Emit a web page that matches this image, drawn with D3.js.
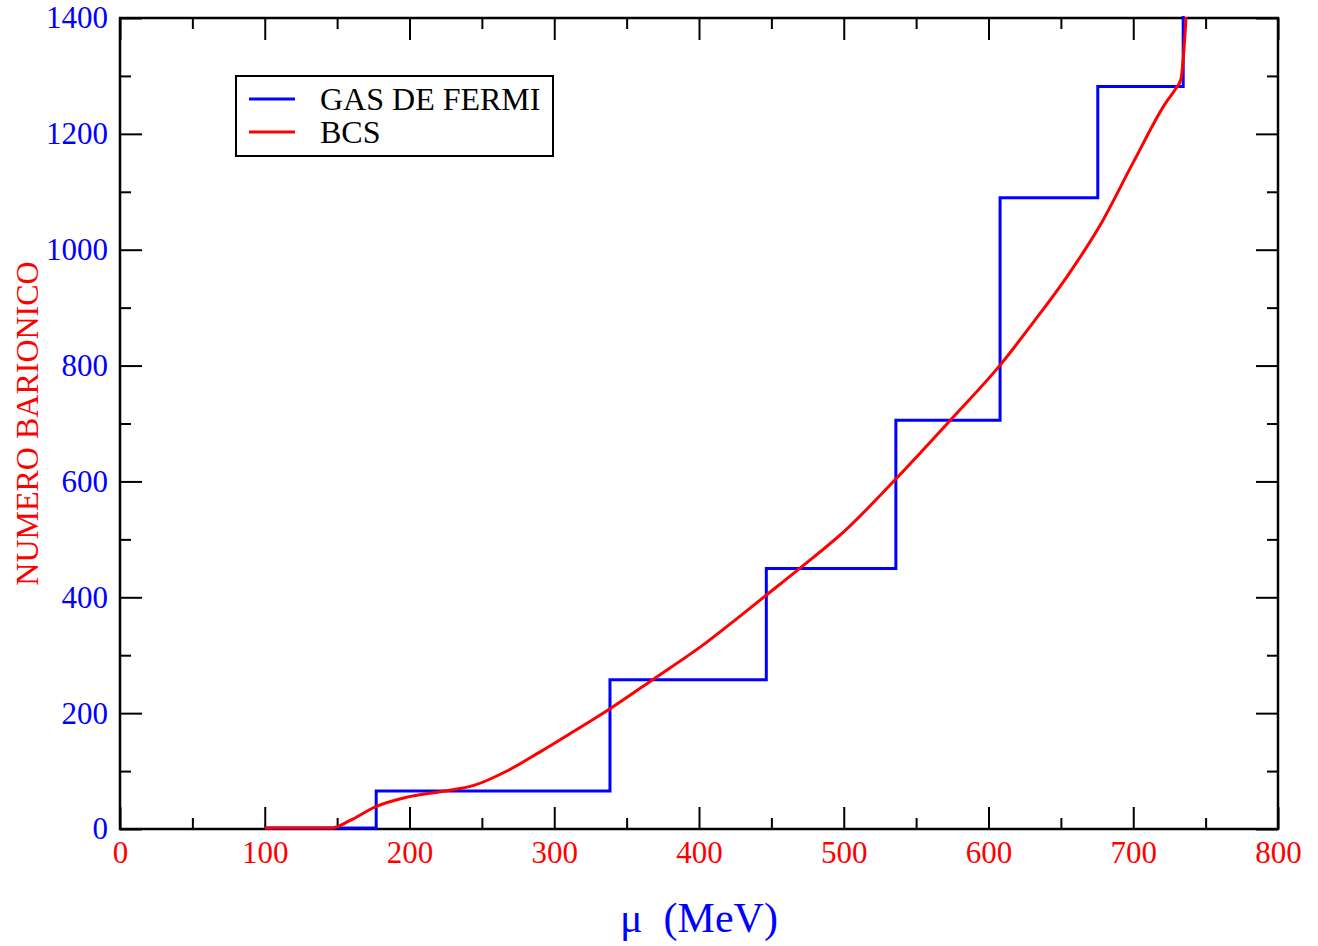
<!DOCTYPE html>
<html>
<head>
<meta charset="utf-8">
<script src="https://cdn.jsdelivr.net/npm/d3@7"></script>
<style>
  body { margin: 0; background: #fff; }
  svg { display: block; }
  text { font-family: 'Liberation Serif', 'Times New Roman', serif; }
</style>
</head>
<body>
<svg id="chart"></svg>
<script>
// Fermi gas: step edges (MeV) and baryon number levels (stepAfter)
const fermiMu = [100, 177, 338.5, 446.5, 536, 608, 675.5, 734.5];
const fermiN = [0, 64, 256, 448, 704, 1088, 1280, 1500];

// BCS curve
const bcsMu = [100, 146, 159, 176, 198, 222, 245, 267, 290, 313, 338, 368, 405, 428, 446,
  470, 502, 535, 574, 608, 631, 654, 677, 700, 723, 729, 733, 734.5, 736.5];
const bcsN = [0, 0, 13, 36, 53, 63, 74, 98, 131, 166, 205, 256, 320, 365, 401,
  449, 516, 600, 705, 799, 873, 951, 1040, 1149, 1254, 1275, 1293, 1327, 1400];

const xMajor = [0, 100, 200, 300, 400, 500, 600, 700, 800];
const xMinor = [50, 150, 250, 350, 450, 550, 650, 750];
const yMajor = [0, 200, 400, 600, 800, 1000, 1200, 1400];
const yMinor = [100, 300, 500, 700, 900, 1100, 1300];

const legendItems = [
  { name: 'GAS DE FERMI', color: '#0000ff' },
  { name: 'BCS', color: '#ff0000' },
];

const width = 1318;
const height = 946;
const margin = { top: 18, right: 40, bottom: 117, left: 120 };
const innerW = width - margin.left - margin.right;
const innerH = height - margin.top - margin.bottom;

const svg = d3.select('#chart').attr('width', width).attr('height', height);

const x = d3.scaleLinear().domain([0, 800]).range([0, innerW]);
const y = d3.scaleLinear().domain([0, 1400]).range([innerH, 0]);

const g = svg.append('g').attr('transform', `translate(${margin.left},${margin.top})`);

svg.append('defs').append('clipPath').attr('id', 'plot-clip')
  .append('rect').attr('y', -2).attr('width', innerW).attr('height', innerH + 4);

// frame first, so the curves sit on top of it
g.append('rect')
  .attr('width', innerW)
  .attr('height', innerH)
  .attr('fill', 'none')
  .attr('stroke', '#000')
  .attr('stroke-width', 2.5);

// axes: major/minor ticks pointing inward on all sides
function styleAxis(sel) {
  sel.select('.domain').remove();
  sel.selectAll('.tick line').attr('stroke', '#000').attr('stroke-width', 2);
}

const fontTick = 31;

g.append('g')
  .attr('transform', `translate(0,${innerH})`)
  .call(d3.axisBottom(x).tickValues(xMajor).tickSize(-22).tickPadding(12).tickFormat(d3.format('d')))
  .call(styleAxis)
  .call(s => s.selectAll('text').attr('fill', '#ff0000').style('font-size', fontTick + 'px')
    .style('font-family', "'Liberation Serif', serif"));

g.append('g')
  .attr('transform', `translate(0,${innerH})`)
  .call(d3.axisBottom(x).tickValues(xMinor).tickSize(-11).tickFormat(''))
  .call(styleAxis);

g.append('g')
  .call(d3.axisTop(x).tickValues(xMajor).tickSize(-22).tickFormat(''))
  .call(styleAxis);
g.append('g')
  .call(d3.axisTop(x).tickValues(xMinor).tickSize(-11).tickFormat(''))
  .call(styleAxis);

g.append('g')
  .call(d3.axisLeft(y).tickValues(yMajor).tickSize(-22).tickPadding(12).tickFormat(d3.format('d')))
  .call(styleAxis)
  .call(s => s.selectAll('text').attr('fill', '#0000ff').style('font-size', fontTick + 'px')
    .style('font-family', "'Liberation Serif', serif"));
g.append('g')
  .call(d3.axisLeft(y).tickValues(yMinor).tickSize(-11).tickFormat(''))
  .call(styleAxis);

g.append('g')
  .attr('transform', `translate(${innerW},0)`)
  .call(d3.axisRight(y).tickValues(yMajor).tickSize(-22).tickFormat(''))
  .call(styleAxis);
g.append('g')
  .attr('transform', `translate(${innerW},0)`)
  .call(d3.axisRight(y).tickValues(yMinor).tickSize(-11).tickFormat(''))
  .call(styleAxis);

// data lines
const plot = g.append('g').attr('clip-path', 'url(#plot-clip)');

const fermi = fermiMu.map((m, i) => [m, fermiN[i]]);
const bcs = bcsMu.map((m, i) => [m, bcsN[i]]);

plot.append('path')
  .datum(fermi)
  .attr('fill', 'none')
  .attr('stroke', '#0000ff')
  .attr('stroke-width', 3)
  .attr('d', d3.line().x(d => x(d[0])).y(d => y(d[1]) - 1).curve(d3.curveStepAfter));

plot.append('path')
  .datum(bcs)
  .attr('fill', 'none')
  .attr('stroke', '#ff0000')
  .attr('stroke-width', 3)
  .attr('stroke-linejoin', 'round')
  .attr('d', d3.line().x(d => x(d[0])).y(d => y(d[1]) - 1).curve(d3.curveMonotoneX));

// legend
const legend = svg.append('g').attr('transform', 'translate(236,76)');
legend.append('rect')
  .attr('width', 317)
  .attr('height', 80)
  .attr('fill', '#fff')
  .attr('stroke', '#000')
  .attr('stroke-width', 2);

legendItems.forEach((item, i) => {
  const row = legend.append('g').attr('transform', `translate(0,${23 + i * 33})`);
  row.append('line')
    .attr('x1', 13).attr('x2', 59)
    .attr('stroke', item.color)
    .attr('stroke-width', 3);
  row.append('text')
    .attr('x', 84)
    .attr('y', 11)
    .style('font-size', '32px')
    .attr('fill', '#000')
    .text(item.name);
});

// axis titles
svg.append('text')
  .attr('x', margin.left + innerW / 2)
  .attr('y', 932)
  .attr('text-anchor', 'middle')
  .attr('fill', '#0000ff')
  .style('font-size', '42px')
  .style('white-space', 'pre')
  .text('\u03bc  (MeV)');

svg.append('text')
  .attr('transform', `translate(38,${margin.top + innerH / 2}) rotate(-90)`)
  .attr('text-anchor', 'middle')
  .attr('fill', '#ff0000')
  .style('font-size', '32px')
  .text('NUMERO BARIONICO');
</script>
</body>
</html>
